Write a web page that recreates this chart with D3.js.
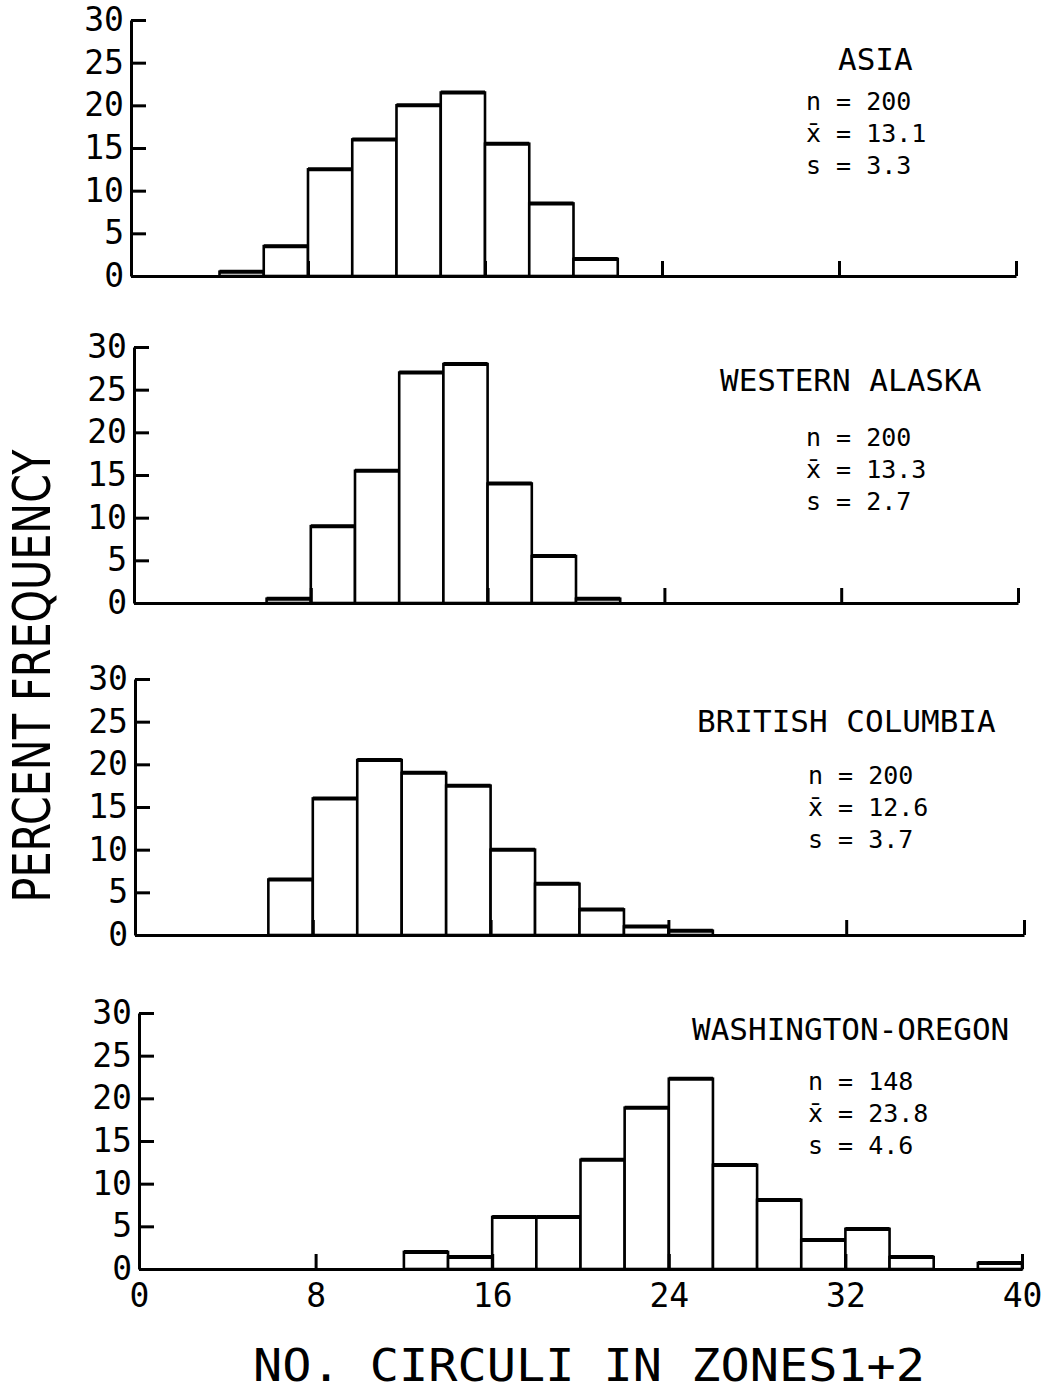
<!DOCTYPE html>
<html>
<head>
<meta charset="utf-8">
<script src="https://cdn.jsdelivr.net/npm/d3@7"></script>
<style>
  body { margin: 0; background: #fff; }
  svg { display: block; }
  .axis path, .axis line { stroke: #000; stroke-width: 3; }
  .axis text { font-family: "DejaVu Sans Mono", monospace; font-size: 33px; fill: #000; }
  .bar { fill: #fff; stroke: #000; stroke-width: 2.6; }
  .bartop { stroke: #000; stroke-width: 4; }
  .title { font-family: "DejaVu Sans Mono", monospace; font-size: 31px; }
  .stat { font-family: "DejaVu Sans Mono", monospace; font-size: 25px; }
</style>
</head>
<body>
<svg id="chart" width="1054" height="1393"></svg>
<script>
// lower edge of each 2-wide class of circuli counts
const binStarts = [0, 2, 4, 6, 8, 10, 12, 14, 16, 18, 20, 22, 24, 26, 28, 30, 32, 34, 36, 38];

// percent frequency per class
const asia       = [0, 0, 0.5, 3.5, 12.5, 16, 20, 21.5, 15.5, 8.5, 2, 0, 0, 0, 0, 0, 0, 0, 0, 0];
const westAlaska = [0, 0, 0, 0.5, 9, 15.5, 27, 28, 14, 5.5, 0.5, 0, 0, 0, 0, 0, 0, 0, 0, 0];
const britishCol = [0, 0, 0, 6.5, 16, 20.5, 19, 17.5, 10, 6, 3, 1, 0.5, 0, 0, 0, 0, 0, 0, 0];
const washOregon = [0, 0, 0, 0, 0, 0, 2, 1.4, 6.1, 6.1, 12.8, 18.9, 22.3, 12.2, 8.1, 3.4, 4.7, 1.4, 0, 0.7];

const regions = ["ASIA", "WESTERN ALASKA", "BRITISH COLUMBIA", "WASHINGTON-OREGON"];
const sampleN = ["200", "200", "200", "148"];
const means   = ["13.1", "13.3", "12.6", "23.8"];
const sds     = ["3.3", "2.7", "3.7", "4.6"];

const yTicks = [0, 5, 10, 15, 20, 25, 30];
const xTicks = [0, 8, 16, 24, 32, 40];

const series = [asia, westAlaska, britishCol, washOregon];

// layout of each panel (the scanned panels are not perfectly aligned)
const layout = [
  { top: 20,   left: 131, right: 1016, titleX: 838, titleY: 50, statX: 806, statY: 90 },
  { top: 347,  left: 134, right: 1018, titleX: 720, titleY: 44, statX: 806, statY: 99 },
  { top: 679,  left: 135, right: 1024, titleX: 697, titleY: 53, statX: 808, statY: 105 },
  { top: 1013, left: 139, right: 1022, titleX: 692, titleY: 27, statX: 808, statY: 77 }
];
const plotH = 256;

const svg = d3.select("#chart");

const y = d3.scaleLinear().domain([0, 30]).range([plotH, 0]);

series.forEach(function(vals, i) {
  const L = layout[i];
  const x = d3.scaleLinear().domain([0, 40]).range([L.left, L.right]);
  const g = svg.append("g").attr("transform", `translate(0,${L.top})`);

  const bins = binStarts.map((b, j) => ({ x0: b, x1: b + 2, v: vals[j] })).filter(d => d.v > 0);

  g.selectAll(".bar")
    .data(bins)
    .join("rect")
    .attr("class", "bar")
    .attr("x", d => x(d.x0))
    .attr("width", d => x(d.x1) - x(d.x0))
    .attr("y", d => y(d.v))
    .attr("height", d => y(0) - y(d.v));

  g.selectAll(".bartop")
    .data(bins)
    .join("line")
    .attr("class", "bartop")
    .attr("x1", d => x(d.x0))
    .attr("x2", d => x(d.x1))
    .attr("y1", d => y(d.v))
    .attr("y2", d => y(d.v));

  // y axis, ticks pointing inward
  g.append("g")
    .attr("class", "axis")
    .attr("transform", `translate(${x(0)},0)`)
    .call(d3.axisLeft(y).tickValues(yTicks).tickSize(-15).tickSizeOuter(0).tickPadding(10))
    .call(a => a.selectAll("text").attr("x", -7));

  // x axis, ticks pointing up, labels only on last panel
  const last = i === series.length - 1;
  g.append("g")
    .attr("class", "axis")
    .attr("transform", `translate(0,${y(0)})`)
    .call(d3.axisBottom(x).tickValues(xTicks).tickSize(-15).tickSizeOuter(0).tickPadding(15)
      .tickFormat(last ? d3.format("d") : () => ""));

  g.append("text")
    .attr("class", "title")
    .attr("x", L.titleX)
    .attr("y", L.titleY)
    .text(regions[i]);

  const stats = ["n = " + sampleN[i], "x\u0304 = " + means[i], "s = " + sds[i]];
  g.selectAll(".stat")
    .data(stats)
    .join("text")
    .attr("class", "stat")
    .attr("x", L.statX)
    .attr("y", (d, k) => L.statY + k * 32)
    .text(d => d);
});

// axis titles
svg.append("text")
  .attr("transform", "translate(50,676) rotate(-90)")
  .attr("text-anchor", "middle")
  .attr("textLength", 453)
  .attr("lengthAdjust", "spacingAndGlyphs")
  .style("font-family", "'Liberation Sans Narrow', 'DejaVu Sans Condensed', sans-serif")
  .style("font-size", "52px")
  .text("PERCENT FREQUENCY");

svg.append("text")
  .attr("x", 589)
  .attr("y", 1381)
  .attr("text-anchor", "middle")
  .attr("textLength", 672)
  .attr("lengthAdjust", "spacingAndGlyphs")
  .style("font-family", "'DejaVu Sans Mono', monospace")
  .style("font-size", "44px")
  .text("NO. CIRCULI IN ZONES1+2");
</script>
</body>
</html>
